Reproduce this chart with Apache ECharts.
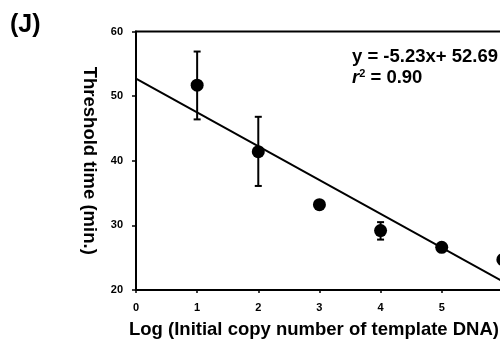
<!DOCTYPE html>
<html><head><meta charset="utf-8">
<script src="https://cdn.jsdelivr.net/npm/echarts@6/dist/echarts.min.js"></script>
<style>html,body{margin:0;padding:0;background:#fff}#c{width:500px;height:344px}</style>
</head><body><div id="c"></div>
<script>
const logCopies = [1, 2, 3, 4, 5, 6];
const thresholdMean = [51.7, 41.4, 33.2, 29.2, 26.6, 24.7];
const errorLow = [46.4, 36.1, 33.2, 27.8, 26.6, 24.7];
const errorHigh = [56.9, 46.8, 33.2, 30.5, 26.6, 24.7];
const fitX = [0, 6.25];
const fitY = [52.69, 20];
const xTickLabels = ['0', '1', '2', '3', '4', '5', '6'];
const panelLabel = '(J)';
const equationText = 'y = -5.23x+ 52.69';
const xName = 'Log (Initial copy number of template DNA)';
const yName = 'Threshold time (min.)';

const FF = 'Liberation Sans, Arial, sans-serif';
const chart = echarts.init(document.getElementById('c'), null, {renderer: 'canvas'});

const pts = logCopies.map((x, i) => [x, thresholdMean[i]]);
const errs = logCopies.map((x, i) => [x, errorLow[i], errorHigh[i]]).filter(d => d[2] - d[1] > 0.01);
const fit = fitX.map((x, i) => [x, fitY[i]]);

chart.setOption({
  animation: false,
  backgroundColor: '#fff',
  grid: {left: 136, top: 31.5, width: 428, height: 258.5, outerBoundsMode: 'none', containLabel: false,
    show: true, borderColor: '#000', borderWidth: 2, backgroundColor: 'transparent'},
  xAxis: {
    type: 'value', min: 0, max: 7, interval: 1,
    name: xName, nameLocation: 'middle', nameGap: 30,
    nameTextStyle: {fontFamily: FF, fontWeight: 'bold', fontSize: 18.5, color: '#000', padding: [0, 72, 0, 0]},
    axisLine: {lineStyle: {color: '#000', width: 2}},
    axisTick: {show: true, length: 3, lineStyle: {color: '#000', width: 1.5}},
    axisLabel: {fontFamily: FF, fontWeight: 'bold', fontSize: 11, color: '#000', margin: 12,
      formatter: v => (v >= 0 && v < xTickLabels.length) ? xTickLabels[v] : ''},
    splitLine: {show: false}
  },
  yAxis: {
    type: 'value', min: 20, max: 60, interval: 10,
    name: yName, nameLocation: 'middle', nameGap: 37, nameRotate: -90,
    nameTextStyle: {fontFamily: FF, fontWeight: 'bold', fontSize: 18.5, color: '#000'},
    axisLine: {lineStyle: {color: '#000', width: 2}},
    axisTick: {show: true, length: 4, lineStyle: {color: '#000', width: 1.5}},
    axisLabel: {fontFamily: FF, fontWeight: 'bold', fontSize: 11, color: '#000', margin: 13},
    splitLine: {show: false}
  },
  graphic: [
    {type: 'text', left: 10, top: 13, style: {text: panelLabel, font: 'bold 25px ' + FF, fill: '#000'}},
    {type: 'text', left: 352, top: 47, style: {text: equationText, font: 'bold 18.5px ' + FF, fill: '#000'}},
    {type: 'text', left: 352, top: 68, style: {
      text: '{i|r}{s|2}{n| = 0.90}',
      rich: {
        i: {font: 'italic bold 18.5px ' + FF, fill: '#000'},
        s: {font: 'bold 11px ' + FF, fill: '#000', verticalAlign: 'top', padding: [0, 0, 8, 0]},
        n: {font: 'bold 18.5px ' + FF, fill: '#000'}
      }}}
  ],
  series: [
    {type: 'line', data: fit, symbol: 'none', lineStyle: {color: '#000', width: 2}, z: 2},
    {type: 'custom', data: errs, z: 3,
      renderItem: (params, api) => {
        const x = api.value(0);
        const lo = api.coord([x, api.value(1)]);
        const hi = api.coord([x, api.value(2)]);
        const cw = 3.5;
        const st = {stroke: '#000', lineWidth: 2};
        return {type: 'group', children: [
          {type: 'line', shape: {x1: lo[0], y1: lo[1], x2: hi[0], y2: hi[1]}, style: st},
          {type: 'line', shape: {x1: lo[0] - cw, y1: lo[1], x2: lo[0] + cw, y2: lo[1]}, style: st},
          {type: 'line', shape: {x1: hi[0] - cw, y1: hi[1], x2: hi[0] + cw, y2: hi[1]}, style: st}
        ]};
      }},
    {type: 'scatter', data: pts, symbol: 'circle', symbolSize: 13, itemStyle: {color: '#000', opacity: 1}, z: 4}
  ]
});
</script></body></html>
